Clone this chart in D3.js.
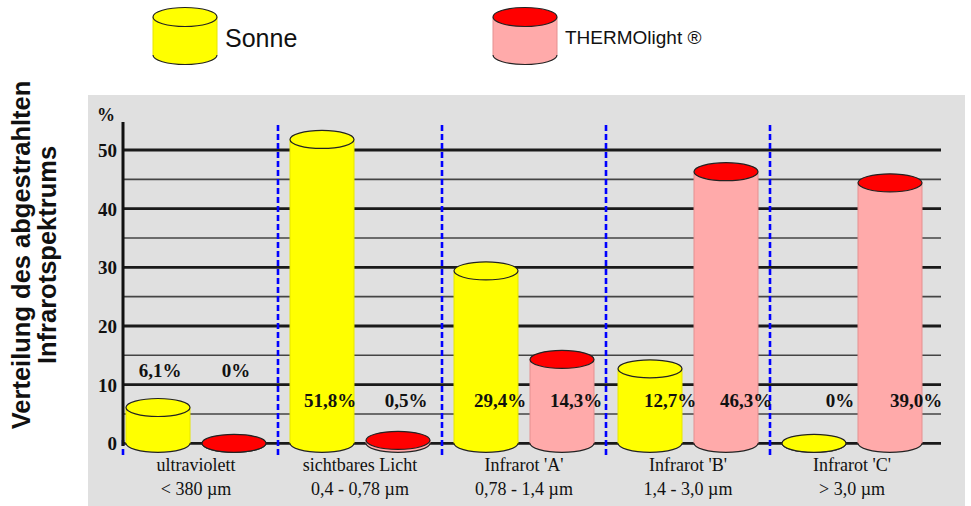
<!DOCTYPE html>
<html><head><meta charset="utf-8">
<script src="https://cdn.jsdelivr.net/npm/d3@7"></script>
<style>body{margin:0;background:#fff}svg{display:block}</style>
</head><body>
<svg id="c" width="971" height="506"></svg>
<script>
// ---- data ----
const categories = ["ultraviolett", "sichtbares Licht", "Infrarot 'A'", "Infrarot 'B'", "Infrarot 'C'"];
const categorySub = ["< 380 \u00b5m", "0,4 - 0,78 \u00b5m", "0,78 - 1,4 \u00b5m", "1,4 - 3,0 \u00b5m", "> 3,0 \u00b5m"];
const seriesNames = ["Sonne", "THERMOlight \u00ae"];
const sonneValues = [6.1, 51.8, 29.4, 12.7, 0];
const thermoValues = [0, 0.5, 14.3, 46.3, 44.4];
const sonneLabels = ["6,1%", "51,8%", "29,4%", "12,7%", "0%"];
const thermoLabels = ["0%", "0,5%", "14,3%", "46,3%", "39,0%"];
const yTicks = [0, 10, 20, 30, 40, 50];
const yGrid = [5, 15, 25, 35, 45];

const colors = {
  "Sonne": {body: "#ffff00", top: "#ffff00", side: "#e6e600"},
  "THERMOlight \u00ae": {body: "#ffaaaa", top: "#ff0000", side: "#e59090"}
};

const svg = d3.select("#c");
const serif = "'Liberation Serif','Times New Roman',serif";
const sans = "'Liberation Sans',Arial,sans-serif";

// panel
svg.append("rect").attr("x", 88).attr("y", 95).attr("width", 877).attr("height", 411).attr("fill", "#e0e0e0");

const y = d3.scaleLinear().domain([0, 50]).range([443.3, 150]);
const x0 = d3.scaleBand().domain(categories).range([114, 934]);
const x1 = d3.scalePoint().domain(seriesNames).range([44, 120]);
const axisX = 123, gridRight = 941;

// gridlines
svg.append("g").selectAll("line").data(yGrid).join("line")
  .attr("x1", axisX).attr("x2", gridRight).attr("y1", d => y(d)).attr("y2", d => y(d))
  .attr("stroke", "#444").attr("stroke-width", 1.6);
svg.append("g").selectAll("line").data(yTicks).join("line")
  .attr("x1", axisX).attr("x2", gridRight).attr("y1", d => y(d)).attr("y2", d => y(d))
  .attr("stroke", "#1a1a1a").attr("stroke-width", 2.8);

// blue dashed separators
const seps = categories.slice(1).map(c => x0(c));
svg.append("g").selectAll("line").data(seps).join("line")
  .attr("x1", d => d).attr("x2", d => d).attr("y1", 125).attr("y2", 457)
  .attr("stroke", "#0000ff").attr("stroke-width", 2.6).attr("stroke-dasharray", "6,3");
svg.append("line").attr("x1", axisX).attr("x2", axisX).attr("y1", 440).attr("y2", 457)
  .attr("stroke", "#0000ff").attr("stroke-width", 2.6).attr("stroke-dasharray", "6,3");

// y axis
const yAxis = d3.axisLeft(y).tickValues(yTicks).tickSize(0).tickPadding(6).tickFormat(d3.format("d"));
const ga = svg.append("g").attr("transform", `translate(${axisX},0)`).call(yAxis);
ga.select(".domain").remove();
ga.selectAll("text").attr("font-family", serif).attr("font-weight", "bold").attr("font-size", 19).attr("fill", "#111").attr("dy", "0.35em");
svg.append("line").attr("x1", axisX).attr("x2", axisX).attr("y1", 122).attr("y2", 446)
  .attr("stroke", "#111").attr("stroke-width", 3);
svg.append("text").attr("x", 97).attr("y", 121).text("%")
  .attr("font-family", serif).attr("font-weight", "bold").attr("font-size", 18).attr("fill", "#111");

// cylinder drawing
function cylinder(g, cx, yTop, yBot, rx, ry, c) {
  g.append("path")
    .attr("d", `M${cx - rx},${yTop} L${cx - rx},${yBot} A${rx},${ry} 0 0 0 ${cx + rx},${yBot} L${cx + rx},${yTop} Z`)
    .attr("fill", c.body).attr("stroke", "none");
  g.append("line").attr("x1", cx - rx).attr("x2", cx - rx).attr("y1", yTop).attr("y2", yBot).attr("stroke", c.side).attr("stroke-width", 1);
  g.append("line").attr("x1", cx + rx).attr("x2", cx + rx).attr("y1", yTop).attr("y2", yBot).attr("stroke", c.side).attr("stroke-width", 1);
  g.append("path")
    .attr("d", `M${cx - rx},${yBot} A${rx},${ry} 0 0 0 ${cx + rx},${yBot}`)
    .attr("fill", "none").attr("stroke", "#222").attr("stroke-width", 1.2);
  g.append("ellipse").attr("cx", cx).attr("cy", yTop).attr("rx", rx).attr("ry", ry)
    .attr("fill", c.top).attr("stroke", "#222").attr("stroke-width", 1.2);
}

const rows = categories.map((c, i) => ({cat: c, i, vals: [sonneValues[i], thermoValues[i]], labels: [sonneLabels[i], thermoLabels[i]]}));
const bars = svg.append("g");
rows.forEach(r => {
  seriesNames.forEach((s, j) => {
    const cx = x0(r.cat) + x1(s);
    cylinder(bars, cx, y(r.vals[j]), y(0), 32, 9, colors[s]);
  });
});

// value labels
rows.forEach(r => {
  const raise = r.vals.some(v => v > 4 && v < 11);
  const ly = raise ? y(12.4) : y(7.3);
  seriesNames.forEach((s, j) => {
    const cx = x0(r.cat) + x1(s) + 2 + r.i * 6;
    svg.append("text").attr("x", cx).attr("y", ly).attr("dy", "0.35em").attr("text-anchor", "middle")
      .attr("font-family", serif).attr("font-weight", "bold").attr("font-size", 19).attr("fill", "#111")
      .text(r.labels[j]);
  });
});

// category labels
const gx = svg.append("g");
categories.forEach((c, i) => {
  const cx = x0(c) + x0.bandwidth() / 2;
  gx.append("text").attr("x", cx).attr("y", 471).attr("text-anchor", "middle")
    .attr("font-family", serif).attr("font-size", 18).attr("fill", "#111").text(c);
  gx.append("text").attr("x", cx).attr("y", 495).attr("text-anchor", "middle")
    .attr("font-family", serif).attr("font-size", 18).attr("fill", "#111").text(categorySub[i]);
});

// y title
const yt = svg.append("text").attr("transform", "translate(30,255) rotate(-90)").attr("text-anchor", "middle")
  .attr("font-family", sans).attr("font-weight", "bold").attr("font-size", 25.5).attr("fill", "#111");
yt.append("tspan").attr("x", 0).attr("y", 0).text("Verteilung des abgestrahlten");
yt.append("tspan").attr("x", 0).attr("y", 26).text("Infrarotspektrums");

// legend
const legendX = d3.scalePoint().domain(seriesNames).range([185, 525]);
seriesNames.forEach((s, j) => {
  const cx = legendX(s);
  cylinder(svg.append("g"), cx, 17, 55, 32, 9.5, colors[s]);
  svg.append("text").attr("x", cx + 40).attr("y", j === 0 ? 47 : 44)
    .attr("font-family", sans).attr("font-size", j === 0 ? 25 : 19).attr("fill", "#111").text(s);
});
</script>
</body></html>
